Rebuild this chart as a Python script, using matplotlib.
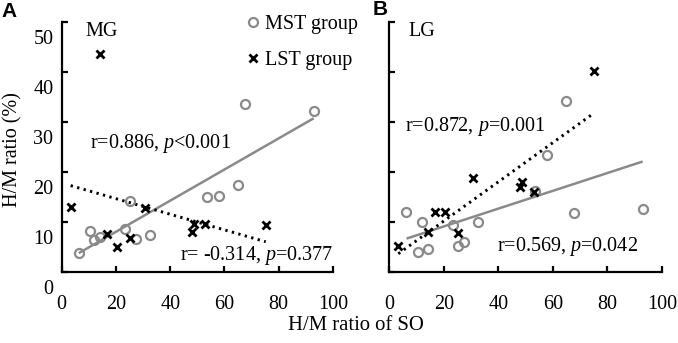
import numpy as np
import matplotlib
matplotlib.use("Agg")
import matplotlib.pyplot as plt
from matplotlib.transforms import ScaledTranslation

# ---------------- data ----------------
mst_x = [6.3, 10.4, 12.0, 14.1, 23.5, 25.2, 27.4, 32.6, 53.6, 57.8, 64.9, 67.7, 92.9]
mst_mg = [3.8, 8.2, 6.3, 7.0, 8.6, 14.2, 6.6, 7.3, 14.9, 15.1, 17.3, 33.5, 32.1]
mst_lg = [11.9, 3.9, 10.0, 4.6, 9.3, 5.1, 5.9, 9.9, 16.1, 23.3, 34.2, 11.7, 12.5]

lst_x = [3.3, 14.1, 16.8, 20.5, 25.2, 30.6, 48.0, 48.6, 52.9, 75.2]
lst_mg = [13.0, 43.5, 7.5, 5.0, 6.7, 12.7, 8.0, 9.6, 9.6, 9.4]
lst_lg = [5.2, 7.9, 12.0, 12.0, 7.7, 18.7, 16.9, 17.9, 15.9, 40.2]

x_ticks = [0, 20, 40, 60, 80, 100]
y_ticks = [0, 10, 20, 30, 40, 50]

panel_names = ["MG", "LG"]
panel_letters = ["A", "B"]
stats_mst = ["r=0.886, $\\it{p}$<0.001", "r=0.569, $\\it{p}$=0.042"]
stats_lst = ["r= -0.314, $\\it{p}$=0.377", "r=0.872, $\\it{p}$=0.001"]

# ---------------- style ----------------
plt.rcParams['font.family'] = ['Liberation Serif', 'DejaVu Serif']
plt.rcParams['mathtext.fontset'] = 'custom'
plt.rcParams['mathtext.it'] = 'Liberation Serif:italic'
plt.rcParams['mathtext.rm'] = 'Liberation Serif'
FS = 14.5
GRAY = '#8a8a8a'

W, H = 678, 343
fig = plt.figure(figsize=(W / 100, H / 100), dpi=100)

def px_axes(x0, x1, y0, y1):
    return fig.add_axes([x0 / W, 1 - y1 / H, (x1 - x0) / W, (y1 - y0) / H])

axA = px_axes(61.7, 333.0, 21.7, 271.7)
axB = px_axes(389.3, 662.0, 21.7, 271.7)

def fit_line(ax, xs, ys, **kw):
    xs = np.asarray(xs); ys = np.asarray(ys)
    k, b = np.polyfit(xs, ys, 1)
    xx = np.array([xs.min(), xs.max()])
    ax.plot(xx, k * xx + b, **kw)

name_x = [0.086, 0.069]
for i, (ax, my, ly) in enumerate([(axA, mst_mg, lst_mg), (axB, mst_lg, lst_lg)]):
    fit_line(ax, mst_x, my, color=GRAY, lw=1.8, solid_capstyle='butt', zorder=2)
    fit_line(ax, lst_x, ly, color='black', lw=2.1, linestyle=(0, (0.8, 1.5)), zorder=2)
    ax.plot(mst_x, my, 'o', mfc='none', mec=GRAY, ms=6.5, mew=1.6, zorder=3,
            label='MST group')
    ax.plot(lst_x, ly, 'x', color='black', ms=6.0, mew=2.0, zorder=3,
            label='LST group')
    ax.set_xlim(0, 100)
    ax.set_ylim(0, 50)
    for s in ['top', 'right']:
        ax.spines[s].set_visible(False)
    for s in ['left', 'bottom']:
        ax.spines[s].set_linewidth(1.6)
    ax.set_xticks(x_ticks)
    ax.set_xticklabels([str(v) for v in x_ticks], fontsize=FS)
    ax.set_yticks(y_ticks)
    ax.tick_params(direction='in', length=4, width=1.6)
    ax.tick_params(axis='x', pad=17)
    ax.patch.set_visible(False)
    ax.text(name_x[i], 0.96, panel_names[i], transform=ax.transAxes,
            fontsize=FS, ha='left', va='center')

axA.set_yticklabels([str(v) for v in y_ticks], fontsize=FS)
axA.tick_params(axis='y', pad=6)
offset = ScaledTranslation(0, -15 / 100, fig.dpi_scale_trans)
for lab in axA.get_yticklabels():
    lab.set_transform(lab.get_transform() + offset)
axB.set_yticklabels([])

# statistics annotations
axA.text(10.4, 25.7, stats_mst[0], fontsize=FS, ha='left', va='center')
axA.text(100, 3.3, stats_lst[0], fontsize=FS, ha='right', va='center')
axB.text(5.8, 29.0, stats_lst[1], fontsize=FS, ha='left', va='center')
axB.text(39.6, 5.0, stats_mst[1], fontsize=FS, ha='left', va='center')

# legend
h, l = axA.get_legend_handles_labels()
fig.legend(h, l, loc='upper left', bbox_to_anchor=(247 / W, 1 - 15 / H),
           frameon=False, fontsize=FS, handlelength=0.6, handletextpad=0.3,
           labelspacing=0.85, borderaxespad=0, borderpad=0)

# axis titles
fig.text(356 / W, 1 - 326 / H, "H/M ratio of SO", fontsize=14.9, ha='center', va='center')
fig.text(13 / W, 1 - 150 / H, "H/M ratio (%)", fontsize=FS, ha='center', va='center',
         rotation=90)

# panel letters
fig.text(1 / W, 1 - 2 / H, "A", fontsize=15, fontweight='bold', ha='left', va='top',
         family='Liberation Sans')
fig.text(373 / W, 1 - 0 / H, "B", fontsize=15, fontweight='bold', ha='left', va='top',
         family='Liberation Sans')

fig.savefig("out.png", dpi=100)
